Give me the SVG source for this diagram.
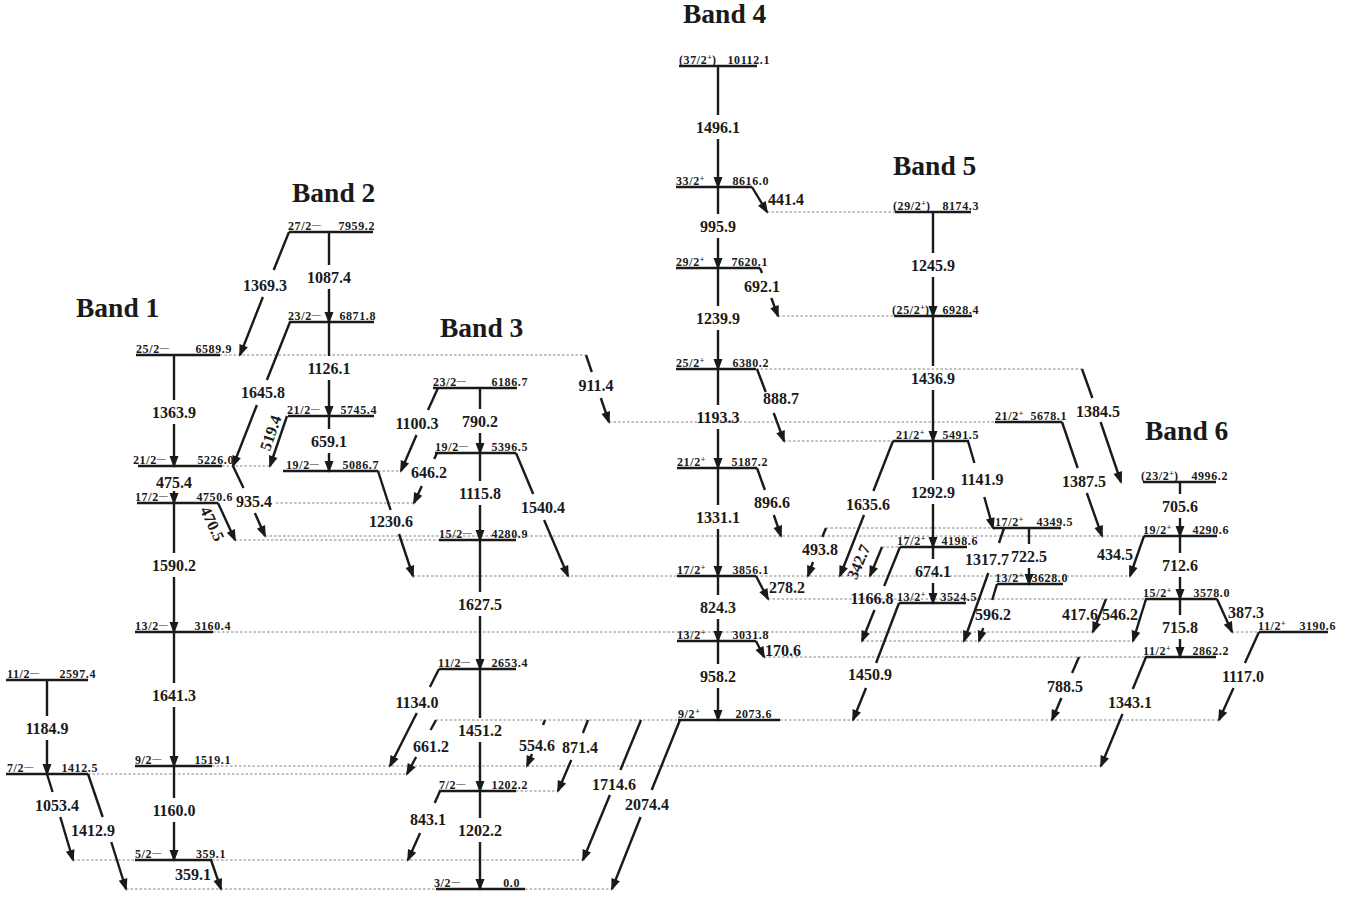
<svg xmlns="http://www.w3.org/2000/svg" width="1360" height="899" viewBox="0 0 1360 899">
<style>
.lv{stroke:#1a1a1a;stroke-width:2.5}
.t{stroke:#1a1a1a;stroke-width:2.4;fill:none}
.a{marker-end:url(#ah)}
.d{stroke:#666;stroke-width:0.8;stroke-dasharray:2.5 2;fill:none}
.tl{font-family:"Liberation Serif","Times New Roman",serif;font-weight:bold;font-size:16px;fill:#1a1a1a;text-anchor:middle}
.tls{text-anchor:start}
.ll{font-family:"Liberation Serif","Times New Roman",serif;font-weight:bold;font-size:12px;letter-spacing:0.6px;fill:#1a1a1a}
.le{text-anchor:end}
.mn{font-size:9px;letter-spacing:0}
.pl{font-size:8px;letter-spacing:0}
.bt{font-family:"Liberation Serif","Times New Roman",serif;font-weight:bold;font-size:27.5px;fill:#1a1a1a}
</style>
<defs>
<marker id="ah" markerUnits="userSpaceOnUse" markerWidth="12" markerHeight="9" refX="10" refY="4.5" orient="auto" overflow="visible"><path d="M0,0 L12,4.5 L0,9 Z" fill="#1a1a1a"/></marker>
</defs>
<rect width="1360" height="899" fill="#fff"/>

<g id="titles">
<text class="bt" x="76" y="317">Band 1</text>
<text class="bt" x="292" y="202">Band 2</text>
<text class="bt" x="440" y="337">Band 3</text>
<text class="bt" x="683" y="23">Band 4</text>
<text class="bt" x="893" y="175">Band 5</text>
<text class="bt" x="1145" y="440">Band 6</text>
</g>

<g id="guides">
<path class="d" d="M220,355H586"/>
<path class="d" d="M767,212H895"/>
<path class="d" d="M778,316H894"/>
<path class="d" d="M756,369H1082"/>
<path class="d" d="M609,422H995"/>
<path class="d" d="M784,441H893"/>
<path class="d" d="M222,466H270"/>
<path class="d" d="M378,471H401"/>
<path class="d" d="M276,503H414"/>
<path class="d" d="M826,528H993"/>
<path class="d" d="M265,536H1144"/>
<path class="d" d="M235,540H439"/>
<path class="d" d="M882,547H900"/>
<path class="d" d="M413,576H677M756,576H1130"/>
<path class="d" d="M768,599H1145"/>
<path class="d" d="M213,632H1093M1232,632H1259"/>
<path class="d" d="M862,641H1133"/>
<path class="d" d="M764,657H1145"/>
<path class="d" d="M436,720H678M780,720H1219"/>
<path class="d" d="M212,766H1101"/>
<path class="d" d="M88,774H407"/>
<path class="d" d="M516,791H558"/>
<path class="d" d="M73,860H135M212,860H583"/>
<path class="d" d="M126,889H436M525,889H612"/>
</g>

<g id="levels">
<g id="L6589_9"><line class="lv" x1="136" y1="355" x2="220" y2="355"/><text class="ll" x="136" y="353">25/2<tspan class="mn" dy="-3">—</tspan></text><text class="ll le" x="232" y="353">6589.9</text></g>
<g id="L5226_0"><line class="lv" x1="138" y1="466" x2="222" y2="466"/><text class="ll" x="133" y="464">21/2<tspan class="mn" dy="-3">—</tspan></text><text class="ll le" x="234" y="464">5226.0</text></g>
<g id="L4750_6"><line class="lv" x1="137" y1="503" x2="218" y2="503"/><text class="ll" x="135" y="501">17/2<tspan class="mn" dy="-3">—</tspan></text><text class="ll le" x="233" y="501">4750.6</text></g>
<g id="L3160_4"><line class="lv" x1="135" y1="632" x2="213" y2="632"/><text class="ll" x="135" y="630">13/2<tspan class="mn" dy="-3">—</tspan></text><text class="ll le" x="231" y="630">3160.4</text></g>
<g id="L1519_1"><line class="lv" x1="135" y1="766" x2="212" y2="766"/><text class="ll" x="135" y="764">9/2<tspan class="mn" dy="-3">—</tspan></text><text class="ll le" x="231" y="764">1519.1</text></g>
<g id="L359_1"><line class="lv" x1="135" y1="860" x2="212" y2="860"/><text class="ll" x="135" y="858">5/2<tspan class="mn" dy="-3">—</tspan></text><text class="ll le" x="226" y="858">359.1</text></g>
<g id="L2597_4"><line class="lv" x1="6" y1="680" x2="88" y2="680"/><text class="ll" x="7" y="678">11/2<tspan class="mn" dy="-3">—</tspan></text><text class="ll le" x="96" y="678">2597.4</text></g>
<g id="L1412_5"><line class="lv" x1="6" y1="774" x2="88" y2="774"/><text class="ll" x="7" y="772">7/2<tspan class="mn" dy="-3">—</tspan></text><text class="ll le" x="98" y="772">1412.5</text></g>

<g id="L7959_2"><line class="lv" x1="289" y1="232" x2="373" y2="232"/><text class="ll" x="288" y="230">27/2<tspan class="mn" dy="-3">—</tspan></text><text class="ll le" x="375" y="230">7959.2</text></g>
<g id="L6871_8"><line class="lv" x1="289" y1="322" x2="374" y2="322"/><text class="ll" x="288" y="320">23/2<tspan class="mn" dy="-3">—</tspan></text><text class="ll le" x="376" y="320">6871.8</text></g>
<g id="L5745_4"><line class="lv" x1="288" y1="416" x2="374" y2="416"/><text class="ll" x="287" y="414">21/2<tspan class="mn" dy="-3">—</tspan></text><text class="ll le" x="377" y="414">5745.4</text></g>
<g id="L5086_7"><line class="lv" x1="283" y1="471" x2="378" y2="471"/><text class="ll" x="286" y="469">19/2<tspan class="mn" dy="-3">—</tspan></text><text class="ll le" x="379" y="469">5086.7</text></g>

<g id="L6186_7"><line class="lv" x1="433" y1="388" x2="517" y2="388"/><text class="ll" x="433" y="386">23/2<tspan class="mn" dy="-3">—</tspan></text><text class="ll le" x="528" y="386">6186.7</text></g>
<g id="L5396_5"><line class="lv" x1="435" y1="453" x2="516" y2="453"/><text class="ll" x="435" y="451">19/2<tspan class="mn" dy="-3">—</tspan></text><text class="ll le" x="528" y="451">5396.5</text></g>
<g id="L4280_9"><line class="lv" x1="439" y1="540" x2="516" y2="540"/><text class="ll" x="439" y="538">15/2<tspan class="mn" dy="-3">—</tspan></text><text class="ll le" x="528" y="538">4280.9</text></g>
<g id="L2653_4"><line class="lv" x1="439" y1="669" x2="516" y2="669"/><text class="ll" x="438" y="667">11/2<tspan class="mn" dy="-3">—</tspan></text><text class="ll le" x="528" y="667">2653.4</text></g>
<g id="L1202_2"><line class="lv" x1="439" y1="791" x2="516" y2="791"/><text class="ll" x="439" y="789">7/2<tspan class="mn" dy="-3">—</tspan></text><text class="ll le" x="528" y="789">1202.2</text></g>
<g id="L0_0"><line class="lv" x1="436" y1="889" x2="525" y2="889"/><text class="ll" x="434" y="887">3/2<tspan class="mn" dy="-3">—</tspan></text><text class="ll le" x="520" y="887">0.0</text></g>

<g id="L10112_1"><line class="lv" x1="679" y1="66" x2="757" y2="66"/><text class="ll" x="679" y="64">(37/2<tspan class="pl" dy="-4">+</tspan><tspan dy="4">)</tspan></text><text class="ll le" x="770" y="64">10112.1</text></g>
<g id="L8616_0"><line class="lv" x1="676" y1="187" x2="752" y2="187"/><text class="ll" x="676" y="185">33/2<tspan class="pl" dy="-4">+</tspan></text><text class="ll le" x="769" y="185">8616.0</text></g>
<g id="L7620_1"><line class="lv" x1="676" y1="268" x2="760" y2="268"/><text class="ll" x="676" y="266">29/2<tspan class="pl" dy="-4">+</tspan></text><text class="ll le" x="768" y="266">7620.1</text></g>
<g id="L6380_2"><line class="lv" x1="676" y1="369" x2="756" y2="369"/><text class="ll" x="676" y="367">25/2<tspan class="pl" dy="-4">+</tspan></text><text class="ll le" x="769" y="367">6380.2</text></g>
<g id="L5187_2"><line class="lv" x1="677" y1="468" x2="757" y2="468"/><text class="ll" x="677" y="466">21/2<tspan class="pl" dy="-4">+</tspan></text><text class="ll le" x="768" y="466">5187.2</text></g>
<g id="L3856_1"><line class="lv" x1="677" y1="576" x2="756" y2="576"/><text class="ll" x="677" y="574">17/2<tspan class="pl" dy="-4">+</tspan></text><text class="ll le" x="769" y="574">3856.1</text></g>
<g id="L3031_8"><line class="lv" x1="677" y1="641" x2="756" y2="641"/><text class="ll" x="677" y="639">13/2<tspan class="pl" dy="-4">+</tspan></text><text class="ll le" x="769" y="639">3031.8</text></g>
<g id="L2073_6"><line class="lv" x1="678" y1="720" x2="780" y2="720"/><text class="ll" x="678" y="718">9/2<tspan class="pl" dy="-4">+</tspan></text><text class="ll le" x="772" y="718">2073.6</text></g>

<g id="L8174_3"><line class="lv" x1="895" y1="212" x2="971" y2="212"/><text class="ll" x="893" y="210">(29/2<tspan class="pl" dy="-4">+</tspan><tspan dy="4">)</tspan></text><text class="ll le" x="979" y="210">8174.3</text></g>
<g id="L6928_4"><line class="lv" x1="894" y1="316" x2="972" y2="316"/><text class="ll" x="892" y="314">(25/2<tspan class="pl" dy="-4">+</tspan><tspan dy="4">)</tspan></text><text class="ll le" x="979" y="314">6928.4</text></g>
<g id="L5491_5"><line class="lv" x1="893" y1="441" x2="969" y2="441"/><text class="ll" x="896" y="439">21/2<tspan class="pl" dy="-4">+</tspan></text><text class="ll le" x="979" y="439">5491.5</text></g>
<g id="L5678_1"><line class="lv" x1="995" y1="422" x2="1062" y2="422"/><text class="ll" x="995" y="420">21/2<tspan class="pl" dy="-4">+</tspan></text><text class="ll le" x="1067" y="420">5678.1</text></g>
<g id="L4198_6"><line class="lv" x1="900" y1="547" x2="967" y2="547"/><text class="ll" x="897" y="545">17/2<tspan class="pl" dy="-4">+</tspan></text><text class="ll le" x="978" y="545">4198.6</text></g>
<g id="L3524_5"><line class="lv" x1="899" y1="603" x2="966" y2="603"/><text class="ll" x="897" y="601">13/2<tspan class="pl" dy="-4">+</tspan></text><text class="ll le" x="977" y="601">3524.5</text></g>
<g id="L4349_5"><line class="lv" x1="993" y1="528" x2="1061" y2="528"/><text class="ll" x="995" y="526">17/2<tspan class="pl" dy="-4">+</tspan></text><text class="ll le" x="1073" y="526">4349.5</text></g>
<g id="L3628_0"><line class="lv" x1="997" y1="584" x2="1063" y2="584"/><text class="ll" x="995" y="582">13/2<tspan class="pl" dy="-4">+</tspan></text><text class="ll le" x="1068" y="582">3628.0</text></g>

<g id="L4996_2"><line class="lv" x1="1143" y1="482" x2="1216" y2="482"/><text class="ll" x="1141" y="480">(23/2<tspan class="pl" dy="-4">+</tspan><tspan dy="4">)</tspan></text><text class="ll le" x="1228" y="480">4996.2</text></g>
<g id="L4290_6"><line class="lv" x1="1144" y1="536" x2="1217" y2="536"/><text class="ll" x="1143" y="534">19/2<tspan class="pl" dy="-4">+</tspan></text><text class="ll le" x="1229" y="534">4290.6</text></g>
<g id="L3578_0"><line class="lv" x1="1145" y1="599" x2="1217" y2="599"/><text class="ll" x="1143" y="597">15/2<tspan class="pl" dy="-4">+</tspan></text><text class="ll le" x="1230" y="597">3578.0</text></g>
<g id="L2862_2"><line class="lv" x1="1145" y1="657" x2="1216" y2="657"/><text class="ll" x="1143" y="655">11/2<tspan class="pl" dy="-4">+</tspan></text><text class="ll le" x="1229" y="655">2862.2</text></g>
<g id="L3190_6"><line class="lv" x1="1259" y1="632" x2="1328" y2="632"/><text class="ll" x="1258" y="630">11/2<tspan class="pl" dy="-4">+</tspan></text><text class="ll le" x="1336" y="630">3190.6</text></g>
</g>

<g id="transitions">
<g id="T1363_9"><path class="t" d="M174,355V400"/><path class="t a" d="M174,424V466"/><text class="tl" x="174" y="417.5">1363.9</text></g>
<g id="T475_4"><path class="t a" d="M174,491V503"/><text class="tl" x="174" y="487.5">475.4</text></g>
<g id="T1590_2"><path class="t" d="M174,503V553"/><path class="t a" d="M174,577V632"/><text class="tl" x="174" y="570.5">1590.2</text></g>
<g id="T1641_3"><path class="t" d="M174,632V683"/><path class="t a" d="M174,707V766"/><text class="tl" x="174" y="700.5">1641.3</text></g>
<g id="T1160_0"><path class="t" d="M174,766V798"/><path class="t a" d="M174,822V860"/><text class="tl" x="174" y="815.5">1160.0</text></g>
<g id="T1184_9"><path class="t" d="M47,680V716"/><path class="t a" d="M47,740V774"/><text class="tl" x="47" y="733.5">1184.9</text></g>
<g id="T1053_4"><path class="t" d="M47,774L52.6,792"/><path class="t a" d="M60.3,817L73,860"/><text class="tl" x="57" y="811">1053.4</text></g>
<g id="T1412_9"><path class="t" d="M88,774L102.7,817"/><path class="t a" d="M111.3,842L126,889"/><text class="tl" x="93" y="836">1412.9</text></g>
<g id="T359_1"><path class="t a" d="M211,860L221,889"/><text class="tl" x="193" y="880">359.1</text></g>
<g id="T935_4"><path class="t" d="M233,466L243.5,488"/><path class="t a" d="M254.9,513L265,536"/><text class="tl" x="254" y="507">935.4</text></g>
<g id="T470_5"><path class="t a" d="M218,503L235,540"/><text class="tl" transform="translate(212,524) rotate(65)" x="0" y="5">470.5</text></g>
<g id="T1087_4"><path class="t" d="M329,232V265"/><path class="t a" d="M329,289V322"/><text class="tl" x="329" y="282.5">1087.4</text></g>
<g id="T1126_1"><path class="t" d="M329,322V356"/><path class="t a" d="M329,380V416"/><text class="tl" x="329" y="373.5">1126.1</text></g>
<g id="T659_1"><path class="t" d="M329,416V429"/><path class="t a" d="M329,453V471"/><text class="tl" x="329" y="446.5">659.1</text></g>
<g id="T1369_3"><path class="t" d="M289,232L273.7,270"/><path class="t a" d="M262.9,297L240,355"/><text class="tl" x="265" y="291">1369.3</text></g>
<g id="T1645_8"><path class="t" d="M290,322L266.9,380"/><path class="t a" d="M256.9,405L233,466"/><text class="tl" x="263" y="398">1645.8</text></g>
<g id="T519_4"><path class="t a" d="M287,416L270,466"/><text class="tl" transform="translate(271,433) rotate(-71)" x="0" y="5">519.4</text></g>
<g id="T1230_6"><path class="t" d="M378,471L390.6,510"/><path class="t a" d="M399,534L413,576"/><text class="tl" x="391" y="527">1230.6</text></g>
<g id="T790_2"><path class="t" d="M480,388V409"/><path class="t a" d="M480,433V453"/><text class="tl" x="480" y="426.5">790.2</text></g>
<g id="T1115_8"><path class="t" d="M480,453V481"/><path class="t a" d="M480,505V540"/><text class="tl" x="480" y="498.5">1115.8</text></g>
<g id="T1627_5"><path class="t" d="M480,540V592"/><path class="t a" d="M480,616V669"/><text class="tl" x="480" y="609.5">1627.5</text></g>
<g id="T1451_2"><path class="t" d="M480,669V718"/><path class="t a" d="M480,742V791"/><text class="tl" x="480" y="735.5">1451.2</text></g>
<g id="T1202_2"><path class="t" d="M480,791V818"/><path class="t a" d="M480,842V889"/><text class="tl" x="480" y="835.5">1202.2</text></g>
<g id="T1100_3"><path class="t" d="M438,388L428,410"/><path class="t a" d="M416.5,435L401,471"/><text class="tl" x="417" y="429">1100.3</text></g>
<g id="T646_2"><path class="t" d="M437,453L434.2,459"/><path class="t a" d="M421.8,486L414,503"/><text class="tl" x="429" y="478">646.2</text></g>
<g id="T1540_4"><path class="t" d="M516,453L533.2,494"/><path class="t a" d="M544.1,520L568,576"/><text class="tl" x="543" y="513">1540.4</text></g>
<g id="T911_4"><path class="t" d="M586,355L591.8,372"/><path class="t a" d="M600.8,398L609,422"/><text class="tl" x="596" y="391">911.4</text></g>
<g id="T1134_0"><path class="t" d="M439,669L429.9,687"/><path class="t a" d="M416.8,713L390,766"/><text class="tl" x="417" y="708">1134.0</text></g>
<g id="T661_2"><path class="t" d="M436,720L430.6,730"/><path class="t a" d="M416.1,757L407,774"/><text class="tl" x="431" y="752">661.2</text></g>
<g id="T554_6"><path class="t" d="M545,720L543,725"/><path class="t a" d="M532,754L527,766"/><text class="tl" x="537" y="751">554.6</text></g>
<g id="T871_4"><path class="t" d="M588,720L582.9,733"/><path class="t a" d="M571.3,760L558,791"/><text class="tl" x="580" y="753">871.4</text></g>
<g id="T1714_6"><path class="t" d="M641,720L620.4,770"/><path class="t a" d="M609.9,795L583,860"/><text class="tl" x="614" y="790">1714.6</text></g>
<g id="T2074_4"><path class="t" d="M680,720L651.7,790"/><path class="t a" d="M640.6,817L612,889"/><text class="tl" x="647" y="810">2074.4</text></g>
<g id="T843_1"><path class="t" d="M440,791L434.7,803"/><path class="t a" d="M420.1,833L408,860"/><text class="tl" x="428" y="825">843.1</text></g>
<g id="T1496_1"><path class="t" d="M718,66V115"/><path class="t a" d="M718,139V187"/><text class="tl" x="718" y="132.5">1496.1</text></g>
<g id="T995_9"><path class="t" d="M718,187V214"/><path class="t a" d="M718,238V268"/><text class="tl" x="718" y="231.5">995.9</text></g>
<g id="T1239_9"><path class="t" d="M718,268V306"/><path class="t a" d="M718,330V369"/><text class="tl" x="718" y="323.5">1239.9</text></g>
<g id="T1193_3"><path class="t" d="M718,369V405"/><path class="t a" d="M718,429V468"/><text class="tl" x="718" y="422.5">1193.3</text></g>
<g id="T1331_1"><path class="t" d="M718,468V505"/><path class="t a" d="M718,529V576"/><text class="tl" x="718" y="522.5">1331.1</text></g>
<g id="T824_3"><path class="t" d="M718,576V595"/><path class="t a" d="M718,619V641"/><text class="tl" x="718" y="612.5">824.3</text></g>
<g id="T958_2"><path class="t" d="M718,641V664"/><path class="t a" d="M718,688V720"/><text class="tl" x="718" y="681.5">958.2</text></g>
<g id="T441_4"><path class="t a" d="M752,187L767,212"/><text class="tl tls" x="768" y="205">441.4</text></g>
<g id="T692_1"><path class="t" d="M760,268L762,273"/><path class="t a" d="M771.3,298L778,316"/><text class="tl" x="762" y="292">692.1</text></g>
<g id="T888_7"><path class="t" d="M757,369L765.7,392"/><path class="t a" d="M773.7,413L784,441"/><text class="tl" x="781" y="404">888.7</text></g>
<g id="T896_6"><path class="t" d="M757,468L764.9,490"/><path class="t a" d="M773.8,515L781,536"/><text class="tl" x="772" y="508">896.6</text></g>
<g id="T278_2"><path class="t a" d="M756,576L768,599"/><text class="tl tls" x="769" y="593">278.2</text></g>
<g id="T170_6"><path class="t a" d="M756,641L764,657"/><text class="tl tls" x="765" y="656">170.6</text></g>
<g id="T1245_9"><path class="t" d="M933,212V253"/><path class="t a" d="M933,277V316"/><text class="tl" x="933" y="270.5">1245.9</text></g>
<g id="T1436_9"><path class="t" d="M933,316V366"/><path class="t a" d="M933,390V441"/><text class="tl" x="933" y="383.5">1436.9</text></g>
<g id="T1292_9"><path class="t" d="M933,441V480"/><path class="t a" d="M933,504V547"/><text class="tl" x="933" y="497.5">1292.9</text></g>
<g id="T674_1"><path class="t" d="M933,547V559"/><path class="t a" d="M933,583V603"/><text class="tl" x="933" y="576.5">674.1</text></g>
<g id="T722_5"><path class="t" d="M1029,528V544"/><path class="t a" d="M1029,568V584"/><text class="tl" x="1029" y="561.5">722.5</text></g>
<g id="T1635_6"><path class="t" d="M893,441L873.4,491"/><path class="t a" d="M864,515L840,576"/><text class="tl" x="868" y="510">1635.6</text></g>
<g id="T1141_9"><path class="t" d="M968,441L974.4,463"/><path class="t a" d="M984.3,497L993,528"/><text class="tl" x="982" y="485">1141.9</text></g>
<g id="T342_7"><path class="t a" d="M882,547L870,576"/><text class="tl" transform="translate(859,562) rotate(-67)" x="0" y="5">342.7</text></g>
<g id="T493_8"><path class="t" d="M826,528L822.3,537"/><path class="t a" d="M813,562L808,576"/><text class="tl" x="820" y="555">493.8</text></g>
<g id="T1166_8"><path class="t" d="M900,547L884.2,586"/><path class="t a" d="M874.5,610L862,641"/><text class="tl" x="872" y="604">1166.8</text></g>
<g id="T1450_9"><path class="t" d="M899,603L876.1,663"/><path class="t a" d="M866,688L853,720"/><text class="tl" x="870" y="680">1450.9</text></g>
<g id="T1317_7"><path class="t" d="M1004,528L999,543"/><path class="t a" d="M988.3,573L964,641"/><text class="tl" x="987" y="565">1317.7</text></g>
<g id="T596_2"><path class="t" d="M997,584L992.2,600"/><path class="t a" d="M983.2,628L979,641"/><text class="tl" x="993" y="620">596.2</text></g>
<g id="T705_6"><path class="t" d="M1180,482V494"/><path class="t a" d="M1180,518V536"/><text class="tl" x="1180" y="511.5">705.6</text></g>
<g id="T712_6"><path class="t" d="M1180,536V553"/><path class="t a" d="M1180,577V599"/><text class="tl" x="1180" y="570.5">712.6</text></g>
<g id="T715_8"><path class="t" d="M1180,599V615"/><path class="t a" d="M1180,639V657"/><text class="tl" x="1180" y="632.5">715.8</text></g>
<g id="T1384_5"><path class="t" d="M1082,369L1092.4,398"/><path class="t a" d="M1100.6,422L1121,482"/><text class="tl" x="1098" y="417">1384.5</text></g>
<g id="T1387_5"><path class="t" d="M1062,422L1077.7,468"/><path class="t a" d="M1086.8,493L1102,536"/><text class="tl" x="1084" y="487">1387.5</text></g>
<g id="T434_5"><path class="t a" d="M1144,536L1130,576"/><text class="tl" x="1115" y="560">434.5</text></g>
<g id="T417_6"><path class="t a" d="M1106,599L1093,632"/><text class="tl" x="1080" y="620">417.6</text></g>
<g id="T546_2"><path class="t a" d="M1146,599L1133,641"/><text class="tl" x="1120" y="620">546.2</text></g>
<g id="T387_3"><path class="t a" d="M1217,599L1232,632"/><text class="tl tls" x="1228" y="618">387.3</text></g>
<g id="T788_5"><path class="t" d="M1079,657L1072.1,673"/><path class="t a" d="M1061.4,698L1052,720"/><text class="tl" x="1065" y="692">788.5</text></g>
<g id="T1343_1"><path class="t" d="M1146,657L1132.8,689"/><path class="t a" d="M1122.5,714L1101,766"/><text class="tl" x="1130" y="708">1343.1</text></g>
<g id="T1117_0"><path class="t" d="M1259,632L1244.9,663"/><path class="t a" d="M1233.5,688L1219,720"/><text class="tl" x="1243" y="682">1117.0</text></g>
</g>
</svg>
